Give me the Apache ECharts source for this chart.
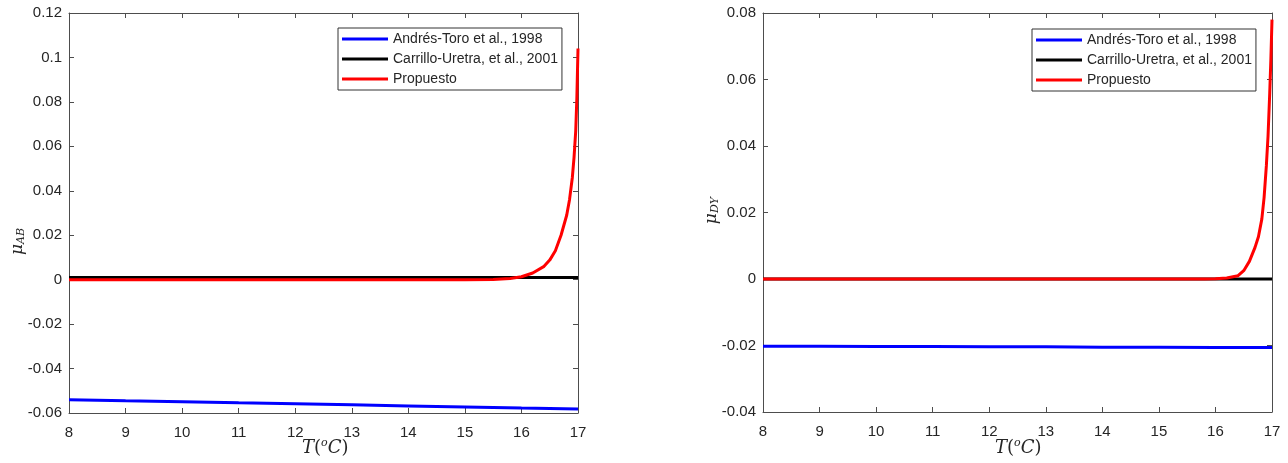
<!DOCTYPE html>
<html>
<head>
<meta charset="utf-8">
<script src="https://cdn.jsdelivr.net/npm/echarts@6/dist/echarts.min.js"></script>
<style>html,body{margin:0;padding:0;background:#fff}#c{width:1288px;height:463px}</style>
</head>
<body>
<div id="c"></div>
<script>
// ---- data ----
var seriesNames = ['Andrés-Toro et al., 1998', 'Carrillo-Uretra, et al., 2001', 'Propuesto'];
var xTicks = [8, 9, 10, 11, 12, 13, 14, 15, 16, 17];

// Left panel (mu_AB)
var abBlueT = [8, 9, 10, 11, 12, 13, 14, 15, 16, 17];
var abBlue = [-0.0540, -0.0545, -0.0549, -0.0554, -0.0558, -0.0563, -0.0568, -0.0573, -0.0578, -0.0582];
var abBlackT = [8, 17];
var abBlack = [0.001, 0.001];
var abRedT = [8, 9, 10, 11, 12, 13, 14, 15, 15.5, 15.8, 16.0, 16.2, 16.4, 16.5, 16.6, 16.7, 16.8, 16.85, 16.9, 16.93, 16.96, 16.98, 17];
var abRed = [0, 0, 0, 0, 0, 0, 0, 0, 0.0001, 0.0005, 0.0013, 0.003, 0.006, 0.0088, 0.013, 0.02, 0.029, 0.036, 0.046, 0.055, 0.067, 0.082, 0.104];

// Right panel (mu_DY)
var dyBlueT = [8, 9, 10, 11, 12, 13, 14, 15, 16, 17];
var dyBlue = [-0.0202, -0.0202, -0.0203, -0.0203, -0.0204, -0.0204, -0.0205, -0.0205, -0.0206, -0.0206];
var dyBlackT = [8, 17];
var dyBlack = [0, 0];
var dyRedT = [8, 9, 10, 11, 12, 13, 14, 15, 15.8, 16.0, 16.2, 16.4, 16.5, 16.6, 16.7, 16.76, 16.82, 16.86, 16.9, 16.93, 16.96, 16.98, 17];
var dyRed = [0, 0, 0, 0, 0, 0, 0, 0, 0, 0.0001, 0.0003, 0.001, 0.0025, 0.0053, 0.0095, 0.0127, 0.018, 0.0245, 0.034, 0.043, 0.056, 0.066, 0.078];

function pairs(t, v) { return t.map(function (x, i) { return [x, v[i]]; }); }

var axisColor = '#4d4d4d';
var labelFont = { color: '#262626', fontSize: 15, fontFamily: 'Liberation Sans, Arial, sans-serif' };

function xAxes(gi) {
  return [
    { type: 'value', gridIndex: gi, min: 8, max: 17, interval: 1, position: 'bottom',
      axisLine: { show: true, onZero: false, lineStyle: { color: axisColor } },
      axisTick: { show: true, inside: true, length: 5, lineStyle: { color: axisColor } },
      axisLabel: Object.assign({ margin: 12 }, labelFont), splitLine: { show: false } },
    { type: 'value', gridIndex: gi, min: 8, max: 17, interval: 1, position: 'top',
      axisLine: { show: true, onZero: false, lineStyle: { color: axisColor } },
      axisTick: { show: true, inside: true, length: 5, lineStyle: { color: axisColor } },
      axisLabel: { show: false }, splitLine: { show: false } }
  ];
}
function yAxes(gi, mn, mx) {
  return [
    { type: 'value', gridIndex: gi, min: mn, max: mx, interval: 0.02, position: 'left',
      axisLine: { show: true, onZero: false, lineStyle: { color: axisColor } },
      axisTick: { show: true, inside: true, length: 5, lineStyle: { color: axisColor } },
      axisLabel: Object.assign({ margin: 7, formatter: function (v) { return String(+v.toFixed(2)); } }, labelFont),
      splitLine: { show: false } },
    { type: 'value', gridIndex: gi, min: mn, max: mx, interval: 0.02, position: 'right',
      axisLine: { show: true, onZero: false, lineStyle: { color: axisColor } },
      axisTick: { show: true, inside: true, length: 5, lineStyle: { color: axisColor } },
      axisLabel: { show: false }, splitLine: { show: false } }
  ];
}
function line(name, data, color, xi, yi, z) {
  return { name: name, type: 'line', xAxisIndex: xi, yAxisIndex: yi, data: data, showSymbol: false,
    symbol: 'none', lineStyle: { color: color, width: 3 }, itemStyle: { color: color }, z: z, animation: false };
}
function legend(left, top) {
  return { left: left, top: top, orient: 'vertical', itemWidth: 46, itemHeight: 3, itemGap: 4,
    icon: 'rect', padding: [3, 4, 3, 4], borderColor: '#333', borderWidth: 1, backgroundColor: '#fff',
    textStyle: { color: '#262626', fontSize: 14, lineHeight: 16, fontFamily: 'Liberation Sans, Arial, sans-serif' },
    data: seriesNames, selectedMode: false };
}
function yLabel(x, y, sub) {
  return { type: 'text', left: x, top: y, rotation: Math.PI / 2,
    style: { text: '{m|μ}{s|' + sub + '}', rich: {
      m: { fontFamily: 'DejaVu Serif, serif', fontStyle: 'italic', fontSize: 17, fill: '#262626' },
      s: { fontFamily: 'DejaVu Serif, serif', fontStyle: 'italic', fontSize: 11, fill: '#262626', padding: [8, 0, 0, 0] } } } };
}
function xLabel(x, y) {
  return { type: 'text', left: x, top: y,
    style: { text: '{i|T}{n|(}{s|o}{i|C}{n|)}', rich: {
      i: { fontFamily: 'DejaVu Serif, serif', fontStyle: 'italic', fontSize: 18, fill: '#262626' },
      n: { fontFamily: 'DejaVu Serif, serif', fontSize: 18, fill: '#262626' },
      s: { fontFamily: 'DejaVu Serif, serif', fontStyle: 'italic', fontSize: 11, fill: '#262626', padding: [0, 0, 10, 0] } } } };
}

var chart = echarts.init(document.getElementById('c'), null, { renderer: 'canvas' });
chart.setOption({
  backgroundColor: '#fff',
  animation: false,
  grid: [
    { left: 69, top: 13, width: 509, height: 400 },
    { left: 763, top: 13, width: 509, height: 399 }
  ],
  xAxis: xAxes(0).concat(xAxes(1)),
  yAxis: yAxes(0, -0.06, 0.12).concat(yAxes(1, -0.04, 0.08)),
  legend: [legend(338, 28), legend(1032, 29)],
  series: [
    line(seriesNames[0], pairs(abBlueT, abBlue), '#0000ff', 0, 0, 2),
    line(seriesNames[1], pairs(abBlackT, abBlack), '#000000', 0, 0, 3),
    line(seriesNames[2], pairs(abRedT, abRed), '#ff0000', 0, 0, 4),
    line(seriesNames[0], pairs(dyBlueT, dyBlue), '#0000ff', 2, 2, 2),
    line(seriesNames[1], pairs(dyBlackT, dyBlack), '#000000', 2, 2, 3),
    line(seriesNames[2], pairs(dyRedT, dyRed), '#ff0000', 2, 2, 4)
  ],
  graphic: [
    yLabel(9, 228, 'AB'),
    yLabel(703, 197, 'DY'),
    xLabel(302, 438),
    xLabel(995, 438)
  ]
});
</script>
</body>
</html>
